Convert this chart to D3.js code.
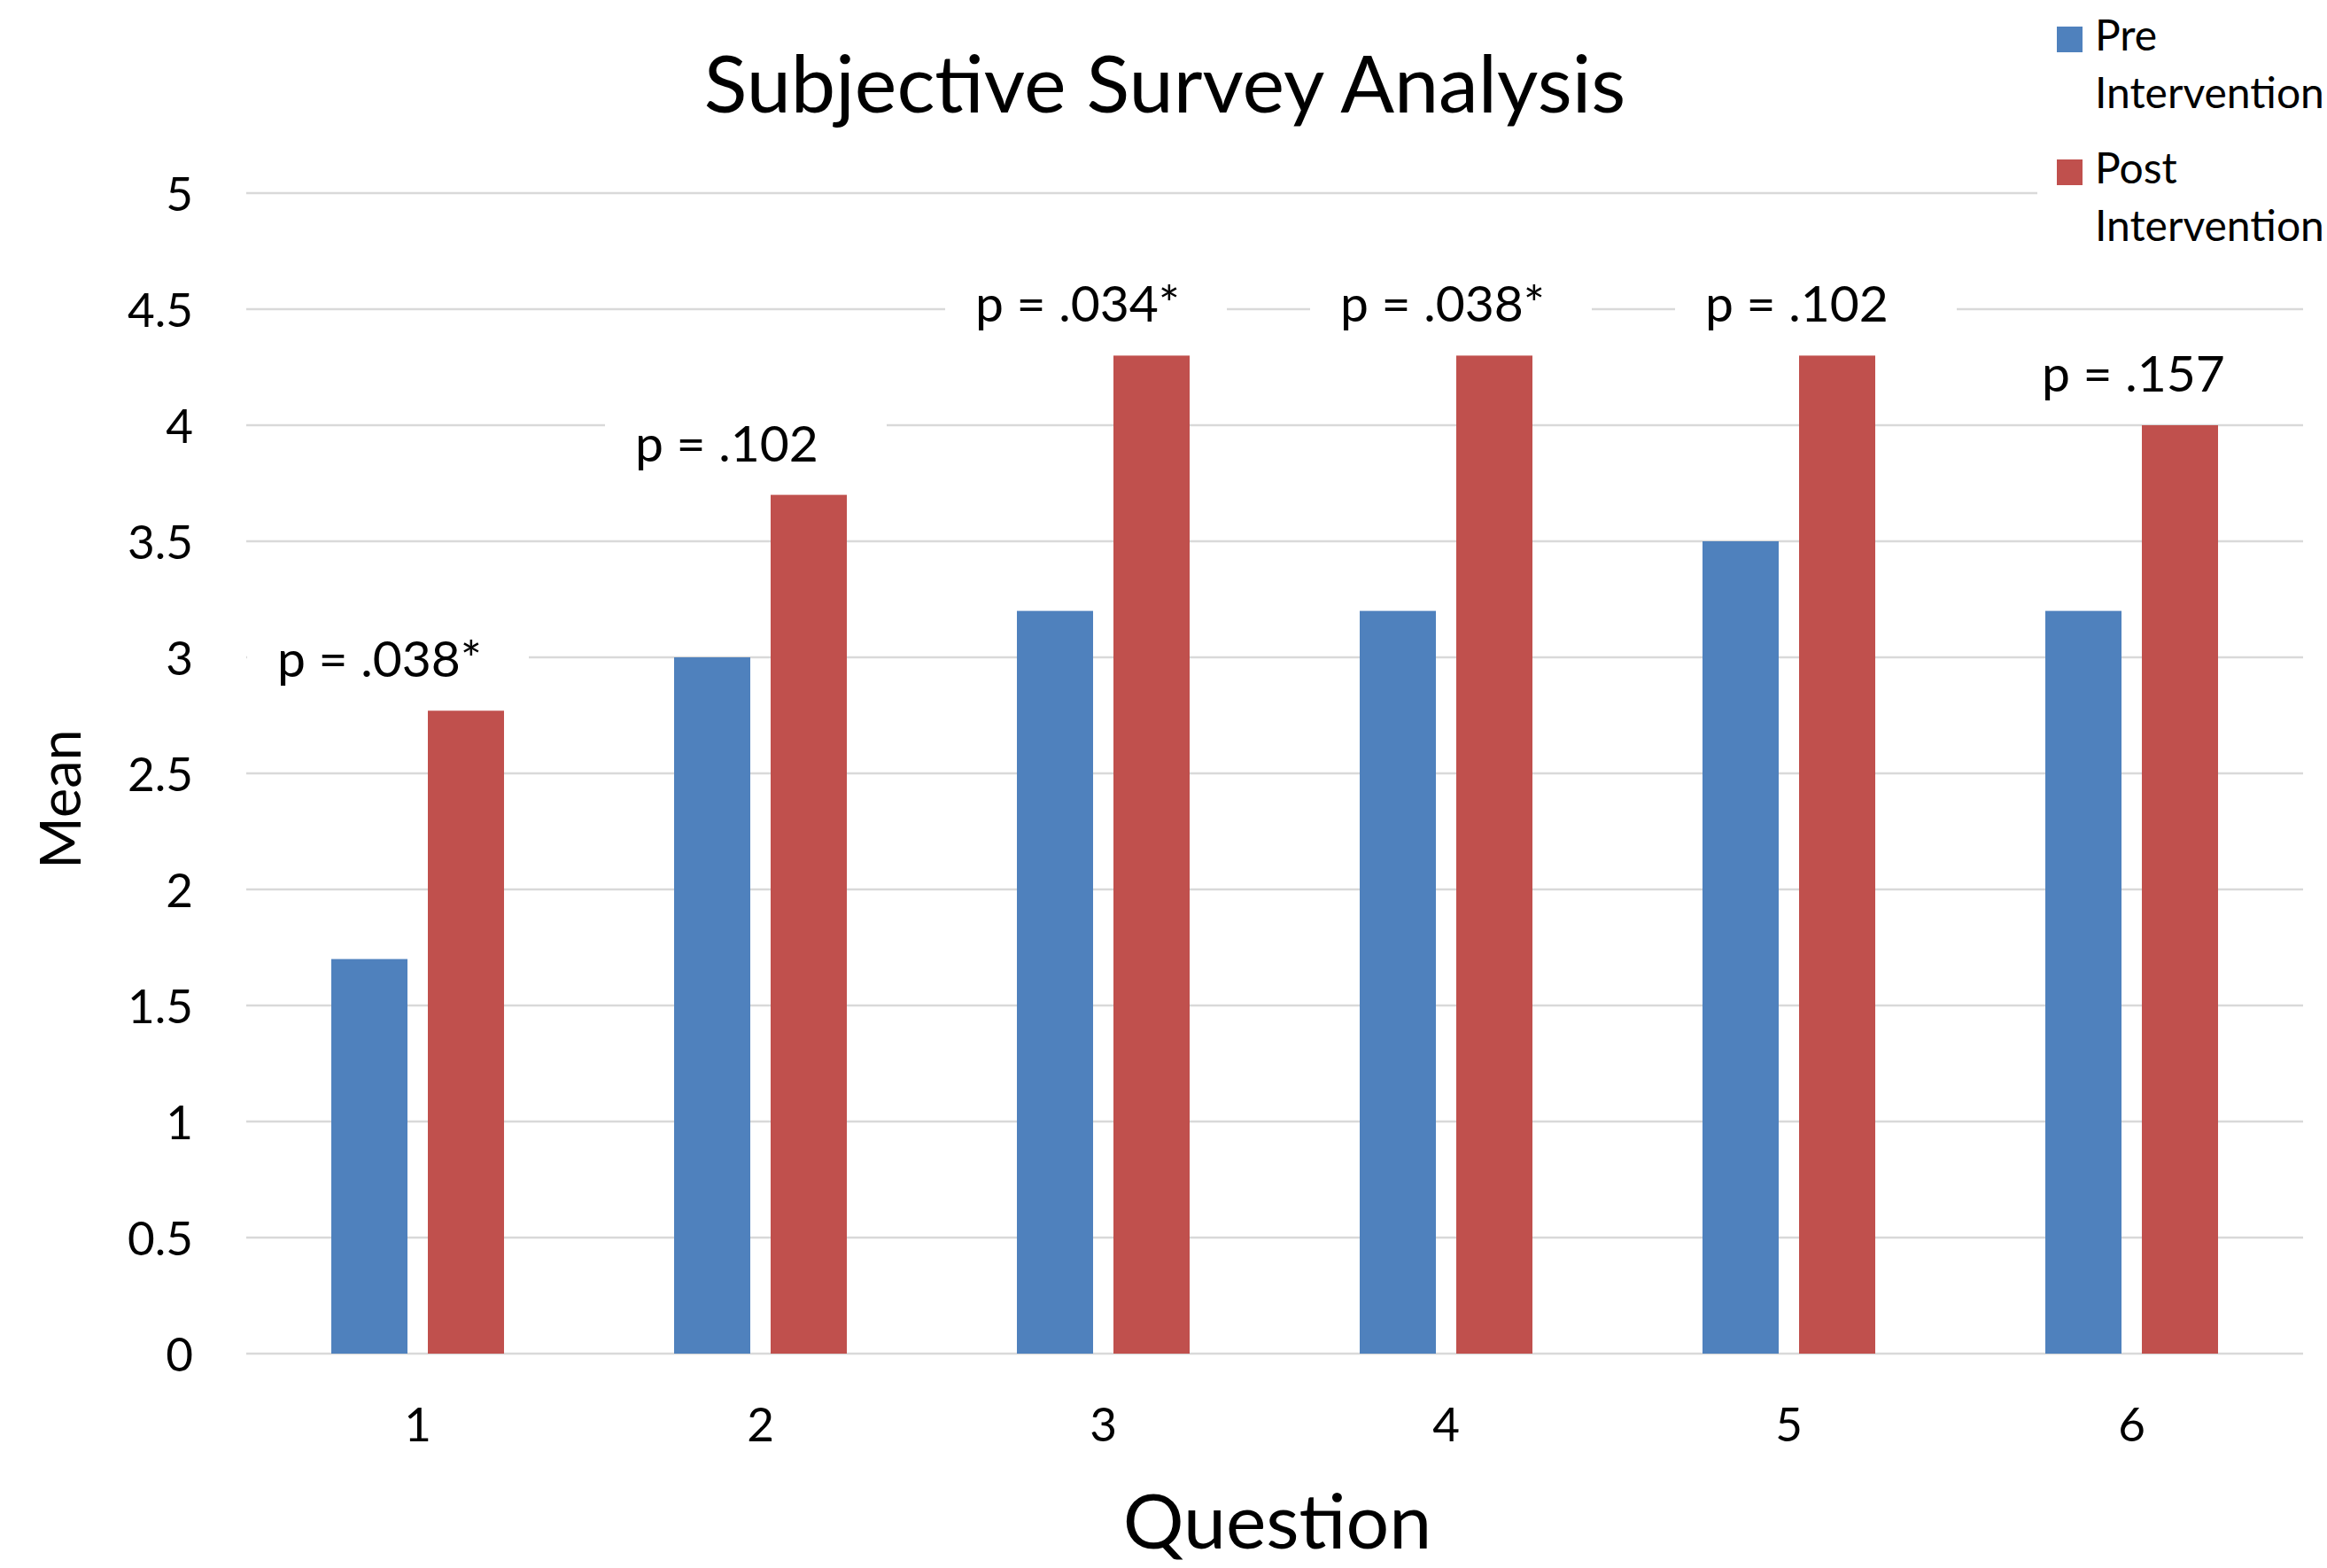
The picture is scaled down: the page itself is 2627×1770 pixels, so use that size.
<!DOCTYPE html>
<html>
<head>
<meta charset="utf-8">
<script src="https://cdn.jsdelivr.net/npm/d3@7"></script>
<style>
  html, body { margin: 0; padding: 0; background: #ffffff; }
  svg { display: block; font-family: Lato, "Open Sans", sans-serif; }
</style>
</head>
<body>
<svg id="chart" width="2627" height="1770"></svg>
<script>
// ---- data ----
const questions = ["1", "2", "3", "4", "5", "6"];
const seriesNames = ["Pre Intervention", "Post Intervention"];
const preValues = [1.7, 3.0, 3.2, 3.2, 3.5, 3.2];
const postValues = [2.77, 3.7, 4.3, 4.3, 4.3, 4.0];
const pLabels = ["p = .038*", "p = .102", "p = .034*", "p = .038*", "p = .102", "p = .157"];
const yTicks = [0, 0.5, 1, 1.5, 2, 2.5, 3, 3.5, 4, 4.5, 5];
const titleText = "Subjective Survey Analysis";
const xTitle = "Question";
const yTitle = "Mean";

// ---- layout (not data) ----
const labelLeftOffset = [35, 52, 49, 74, 99, 92]; // text left from band start, px
const colors = ["#4f81bd", "#c0504d"];
const plot = { left: 278, right: 2600, top: 218, bottom: 1528 };

const svg = d3.select("#chart");
svg.append("rect").attr("width", 2627).attr("height", 1770).attr("fill", "#fff");

const x = d3.scaleBand().domain(questions).range([plot.left, plot.right]).paddingInner(0).paddingOuter(0);
const xInner = d3.scaleBand().domain(seriesNames).range([96, 291]).paddingInner(23 / 109).paddingOuter(0);
const y = d3.scaleLinear().domain([0, 5]).range([plot.bottom, plot.top]);

// gridlines
svg.append("g").selectAll("line").data(yTicks).join("line")
  .attr("x1", plot.left).attr("x2", plot.right)
  .attr("y1", d => y(d)).attr("y2", d => y(d))
  .attr("stroke", "#d9d9d9").attr("stroke-width", 2.5);

// y axis
const yAxis = svg.append("g").attr("transform", `translate(${plot.left},0)`)
  .call(d3.axisLeft(y).tickValues(yTicks).tickFormat(d3.format("")).tickSize(0).tickPadding(60));
yAxis.select(".domain").remove();
yAxis.selectAll("text").attr("dy", "0.36em").attr("font-size", 53).attr("fill", "#000")
  .attr("font-family", "Lato, sans-serif");

// x axis
const xAxis = svg.append("g").attr("transform", `translate(0,${plot.bottom})`)
  .call(d3.axisBottom(x).tickSize(0).tickPadding(61));
xAxis.select(".domain").remove();
xAxis.selectAll("text").attr("font-size", 53).attr("fill", "#000").attr("font-family", "Lato, sans-serif");

// bars
const rows = questions.map((q, i) => ({ q, vals: [preValues[i], postValues[i]] }));
const groups = svg.append("g").selectAll("g").data(rows).join("g")
  .attr("transform", d => `translate(${x(d.q)},0)`);
groups.selectAll("rect").data(d => d.vals.map((v, j) => ({ s: seriesNames[j], v, j }))).join("rect")
  .attr("x", d => xInner(d.s))
  .attr("width", xInner.bandwidth())
  .attr("y", d => y(d.v))
  .attr("height", d => y(0) - y(d.v))
  .attr("fill", d => colors[d.j]);

// p-value annotations (white text boxes)
const ann = svg.append("g");
questions.forEach((q, i) => {
  const base = y(postValues[i]) - 38;
  const tx = x(q) + labelLeftOffset[i];
  ann.append("rect").attr("x", tx - 34).attr("y", base - 75).attr("width", 318).attr("height", 100).attr("fill", "#fff");
  ann.append("text").attr("x", tx).attr("y", base).attr("font-size", 57).attr("fill", "#000").text(pLabels[i]);
});

// title
svg.append("text").attr("x", 1315).attr("y", 127).attr("text-anchor", "middle")
  .attr("font-size", 90).attr("fill", "#000").text(titleText);

// axis titles
svg.append("text").attr("x", 1442).attr("y", 1748).attr("text-anchor", "middle")
  .attr("font-size", 86).attr("fill", "#000").text(xTitle);
svg.append("text").attr("transform", "translate(91,902) rotate(-90)").attr("text-anchor", "middle")
  .attr("font-size", 63).attr("fill", "#000").text(yTitle);

// legend
const lg = svg.append("g");
lg.append("rect").attr("x", 2300).attr("y", 0).attr("width", 327).attr("height", 295).attr("fill", "#fff");
const legendRows = [["Pre", "Intervention"], ["Post", "Intervention"]];
legendRows.forEach((lines, i) => {
  const top = 57 + i * 150;
  lg.append("rect").attr("x", 2322).attr("y", top - 27).attr("width", 29).attr("height", 29).attr("fill", colors[i]);
  lines.forEach((t, k) => {
    lg.append("text").attr("x", 2365).attr("y", top + k * 65).attr("font-size", 48).attr("fill", "#000").text(t);
  });
});
</script>
</body>
</html>
